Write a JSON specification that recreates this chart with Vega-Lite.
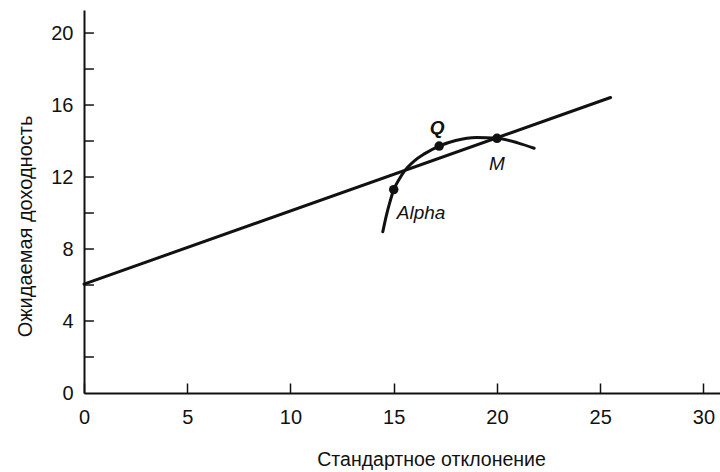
{
  "$schema": "https://vega.github.io/schema/vega-lite/v6.json",
  "autosize": "none",
  "padding": {"left": 84, "top": 10, "right": 0, "bottom": 79},
  "width": 636,
  "height": 383,
  "background": "white",
  "config": {
    "view": {"stroke": null},
    "font": "Liberation Sans, Arial, sans-serif"
  },
  "datasets": {
    "lines": [
      {"series": "CML", "x": 0, "y": 6.05},
      {"series": "CML", "x": 25.5, "y": 16.42},
      {"series": "frontier", "x": 14.47, "y": 8.96},
      {"series": "frontier", "x": 14.65, "y": 9.9},
      {"series": "frontier", "x": 14.8, "y": 10.55},
      {"series": "frontier", "x": 15.0, "y": 11.3},
      {"series": "frontier", "x": 15.25, "y": 11.85},
      {"series": "frontier", "x": 15.5, "y": 12.3},
      {"series": "frontier", "x": 16.0, "y": 12.9},
      {"series": "frontier", "x": 16.5, "y": 13.3},
      {"series": "frontier", "x": 17.2, "y": 13.72},
      {"series": "frontier", "x": 18.0, "y": 14.03},
      {"series": "frontier", "x": 19.0, "y": 14.2},
      {"series": "frontier", "x": 20.0, "y": 14.15},
      {"series": "frontier", "x": 21.0, "y": 13.9},
      {"series": "frontier", "x": 21.8, "y": 13.6}
    ],
    "points": [
      {"name": "Alpha", "x": 15.0, "y": 11.3},
      {"name": "Q", "x": 17.2, "y": 13.72},
      {"name": "M", "x": 20.0, "y": 14.15}
    ],
    "yticks": [
      {"v": 2}, {"v": 4}, {"v": 6}, {"v": 8}, {"v": 10},
      {"v": 12}, {"v": 14}, {"v": 16}, {"v": 18}, {"v": 20}
    ]
  },
  "layer": [
    {
      "data": {"name": "lines"},
      "mark": {"type": "line", "color": "#111", "strokeWidth": 3, "interpolate": "monotone", "strokeCap": "round"},
      "encoding": {
        "x": {
          "field": "x", "type": "quantitative",
          "scale": {"domain": [0, 30.8], "nice": false, "zero": false},
          "axis": {
            "title": "Стандартное отклонение",
            "values": [0, 5, 10, 15, 20, 25, 30],
            "domainColor": "#111", "domainWidth": 2,
            "ticks": true, "tickColor": "#111", "tickWidth": 1.5, "tickSize": -10,
            "labelPadding": 24, "labelFontSize": 20, "labelColor": "#111",
            "labelBaseline": "top",
            "titleFontSize": 19.5, "titleColor": "#111", "titleFontWeight": "normal",
            "titleX": 347, "titleY": 66, "titleBaseline": "middle", "titleAlign": "center",
            "grid": false, "labelFlush": false, "zindex": 1
          }
        },
        "y": {
          "field": "y", "type": "quantitative",
          "scale": {"domain": [0, 21.28], "nice": false, "zero": false},
          "axis": {
            "orient": "left",
            "title": "Ожидаемая доходность",
            "values": [0, 2, 4, 6, 8, 10, 12, 14, 16, 18, 20],
            "labelExpr": "datum.value % 4 === 0 ? datum.label : ''",
            "labelOverlap": false,
            "domainColor": "#111", "domainWidth": 2,
            "ticks": false,
            "labelPadding": 11, "labelFontSize": 20, "labelColor": "#111",
            "titleFontSize": 20, "titleColor": "#111", "titleFontWeight": "normal",
            "titleX": -59, "titleY": 216, "titleAngle": -90, "titleBaseline": "middle", "titleAlign": "center",
            "grid": false, "labelFlush": false, "zindex": 1
          }
        },
        "detail": {"field": "series"}
      }
    },
    {
      "data": {"name": "yticks"},
      "mark": {"type": "rule", "color": "#111", "strokeWidth": 1.5},
      "encoding": {
        "y": {"field": "v", "type": "quantitative"},
        "x": {"datum": 0, "type": "quantitative"},
        "x2": {"datum": 0.48}
      }
    },
    {
      "data": {"name": "points"},
      "mark": {"type": "point", "filled": true, "color": "#111", "size": 90, "opacity": 1},
      "encoding": {
        "x": {"field": "x", "type": "quantitative"},
        "y": {"field": "y", "type": "quantitative"}
      }
    },
    {
      "data": {"name": "points"},
      "transform": [{"filter": "datum.name === 'Alpha'"}],
      "mark": {"type": "text", "align": "left", "baseline": "middle", "dx": 3, "dy": 23, "fontSize": 19, "fontStyle": "italic", "color": "#111"},
      "encoding": {
        "x": {"field": "x", "type": "quantitative"},
        "y": {"field": "y", "type": "quantitative"},
        "text": {"field": "name"}
      }
    },
    {
      "data": {"name": "points"},
      "transform": [{"filter": "datum.name === 'Q'"}],
      "mark": {"type": "text", "align": "center", "baseline": "middle", "dx": -2, "dy": -18, "fontSize": 19, "fontStyle": "italic", "fontWeight": "bold", "color": "#111"},
      "encoding": {
        "x": {"field": "x", "type": "quantitative"},
        "y": {"field": "y", "type": "quantitative"},
        "text": {"field": "name"}
      }
    },
    {
      "data": {"name": "points"},
      "transform": [{"filter": "datum.name === 'M'"}],
      "mark": {"type": "text", "align": "center", "baseline": "middle", "dx": 0, "dy": 26, "fontSize": 19, "fontStyle": "italic", "color": "#111"},
      "encoding": {
        "x": {"field": "x", "type": "quantitative"},
        "y": {"field": "y", "type": "quantitative"},
        "text": {"field": "name"}
      }
    }
  ]
}
